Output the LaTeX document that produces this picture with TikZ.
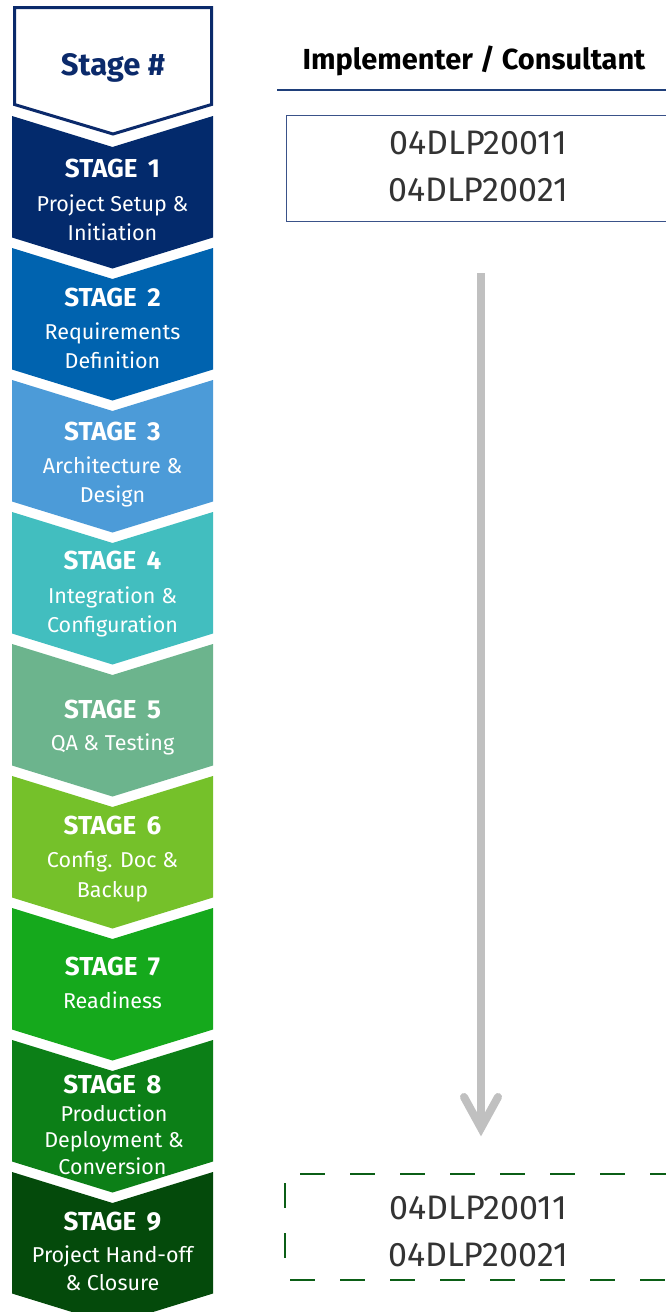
\documentclass[tikz,border=0pt]{standalone}
\usepackage{fontspec}
\setmainfont{Fira Sans}
\definecolor{navy}{HTML}{0B2A6B}
\definecolor{lineblue}{HTML}{1F3F7A}
\definecolor{boxblue}{HTML}{3A5289}
\definecolor{sA}{HTML}{032A6C}
\definecolor{sB}{HTML}{0063AF}
\definecolor{sC}{HTML}{4C9BD8}
\definecolor{sD}{HTML}{42BEBF}
\definecolor{sE}{HTML}{6CB48D}
\definecolor{sF}{HTML}{75C12A}
\definecolor{sG}{HTML}{15A91C}
\definecolor{sH}{HTML}{0C7F17}
\definecolor{sI}{HTML}{044A0B}
\definecolor{dashgreen}{HTML}{0B5E16}
\definecolor{codegrey}{HTML}{333333}
\definecolor{arrowgrey}{HTML}{C0C0C0}
\begin{document}
\begin{tikzpicture}[x=1pt,y=-1pt,
  stitle/.style={anchor=base, text=white, inner sep=0pt, font=\bfseries\fontsize{26}{30}\selectfont},
  ssub/.style={anchor=base, text=white, inner sep=0pt, font=\fontsize{21.5}{25}\selectfont},
  codetxt/.style={anchor=base, text=codegrey, inner sep=0pt, font=\fontsize{34}{38}\selectfont},
  codebox/.style={minimum width=386pt, minimum height=106pt, inner sep=0pt, anchor=north west}]
\useasboundingbox (0,0) rectangle (665,1312);
\fill[white] (0,0) rectangle (665,1312);
% header chevron
\draw[navy, line width=3pt, fill=white, line join=miter] (14.5,7.5) -- (211.5,7.5) -- (211.5,104.5) -- (113,134) -- (14.5,104.5) -- cycle;
\node[anchor=base, text=navy, inner sep=0pt, font=\bfseries\fontsize{31}{35}\selectfont] (hdr) at (113,75) {Stage \#};
% stage chevrons
\foreach \c/\t in {sA/116, sB/248, sC/380, sD/512, sE/644, sF/776, sG/908, sH/1040, sI/1172}
  \fill[\c] (12,\t) -- (112.5,\t+31) -- (213,\t) -- (213,\t+121.5) -- (112.5,\t+152.5) -- (12,\t+121.5) -- cycle;
% stage texts
\node[stitle] (t1) at (112.5,177) {STAGE\hspace{0.4em}1};
\node[ssub] (t1a) at (112.5,211) {Project Setup \&};
\node[ssub] (t1b) at (112.5,240) {Initiation};
\node[stitle] (t2) at (112.5,306) {STAGE\hspace{0.4em}2};
\node[ssub] (t2a) at (112.5,339) {Requirements};
\node[ssub] (t2b) at (112.5,368) {Definition};
\node[stitle] (t3) at (112.5,440) {STAGE\hspace{0.4em}3};
\node[ssub] (t3a) at (112.5,473) {Architecture \&};
\node[ssub] (t3b) at (112.5,502) {Design};
\node[stitle] (t4) at (112.5,569) {STAGE\hspace{0.4em}4};
\node[ssub] (t4a) at (112.5,603) {Integration \&};
\node[ssub] (t4b) at (112.5,632) {Configuration};
\node[stitle] (t5) at (112.5,718) {STAGE\hspace{0.4em}5};
\node[ssub] (t5a) at (112.5,750) {QA \& Testing};
\node[stitle] (t6) at (112.5,834) {STAGE\hspace{0.4em}6};
\node[ssub] (t6a) at (112.5,867) {Config. Doc \&};
\node[ssub] (t6b) at (112.5,897) {Backup};
\node[stitle] (t7) at (112.5,975) {STAGE\hspace{0.4em}7};
\node[ssub] (t7a) at (112.5,1008) {Readiness};
\node[stitle] (t8) at (112.5,1093) {STAGE\hspace{0.4em}8};
\node[ssub] (t8a) at (114,1121) {Production};
\node[ssub] (t8b) at (114,1147) {Deployment \&};
\node[ssub] (t8c) at (112.5,1174) {Conversion};
\node[stitle] (t9) at (112.5,1230) {STAGE\hspace{0.4em}9};
\node[ssub] (t9a) at (112.5,1262) {Project Hand-off};
\node[ssub] (t9b) at (112.5,1290) {\& Closure};
% column header
\node[anchor=base, inner sep=0pt, text=black, font=\bfseries\fontsize{29}{33}\selectfont] (col) at (474,69) {Implementer / Consultant};
\coordinate (ulL) at (277,90);
\coordinate (ulR) at (670,90);
\draw[lineblue, line width=2pt] (ulL) -- (ulR);
% top box
\node[codebox, draw=boxblue, line width=1.2pt] (topbox) at (285.5,114.5) {};
\node[codetxt] (c1) at (478,154) {04DLP20011};
\node[codetxt] (c2) at (478,201) {04DLP20021};
% arrow
\coordinate (arTop) at (481,273);
\coordinate (arTip) at (481,1128);
\draw[arrowgrey, line width=8pt] (arTop) -- ([yshift=6pt]arTip);
\draw[arrowgrey, line width=8pt, line cap=round, line join=miter, miter limit=10] ([xshift=-17pt,yshift=31pt]arTip) -- (arTip) -- ([xshift=17pt,yshift=31pt]arTip);
% bottom dashed box
\node[codebox] (botbox) at (285,1174) {};
\draw[dashgreen, line width=2pt, dash pattern=on 25pt off 25pt, dash phase=35pt] (botbox.north west) -- (botbox.north east);
\draw[dashgreen, line width=2pt, dash pattern=on 25pt off 25pt, dash phase=45pt] (botbox.south west) -- (botbox.south east);
\draw[dashgreen, line width=2pt, dash pattern=on 25pt off 25pt, dash phase=41pt] (botbox.north west) -- (botbox.south west);
\node[codetxt] (c3) at (478,1219) {04DLP20011};
\node[codetxt] (c4) at (478,1266) {04DLP20021};
\end{tikzpicture}
\end{document}
